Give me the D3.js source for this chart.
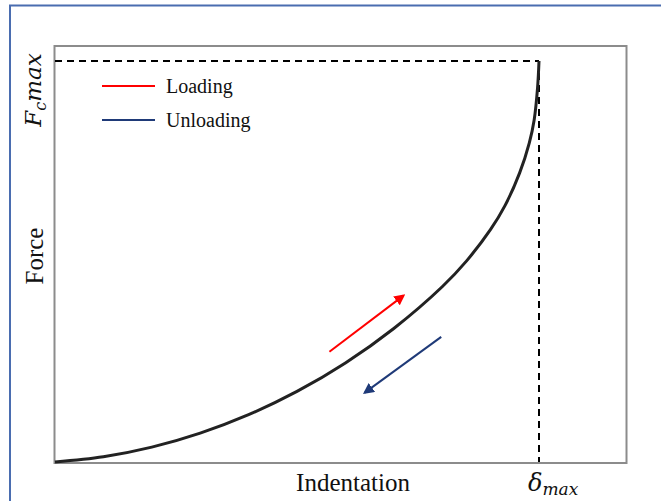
<!DOCTYPE html>
<html>
<head>
<meta charset="utf-8">
<script src="https://cdn.jsdelivr.net/npm/d3@7"></script>
<style>
  body { margin: 0; background: #fff; }
  svg { display: block; }
</style>
</head>
<body>
<div id="chart"></div>
<script>
// normalised indentation (delta / delta_max) and force (F / Fc_max)
var indentation = [0, 0.1, 0.2, 0.3, 0.4, 0.5, 0.6, 0.7, 0.8, 0.85, 0.9, 0.93, 0.96, 0.98, 0.99, 0.997, 1.0];
var force = [0, 0.013, 0.037, 0.072, 0.118, 0.176, 0.247, 0.333, 0.437, 0.501, 0.580, 0.640, 0.721, 0.796, 0.853, 0.933, 1.0];

// legend entries
var seriesNames = ["Loading", "Unloading"];
var seriesColors = ["#ff0000", "#1f3a78"];

// direction arrows: [x0, y0, x1, y1] in data units
var arrowPaths = [
  [0.567, 0.275, 0.720, 0.415],
  [0.798, 0.312, 0.640, 0.173]
];

var svgWidth = 661;
var svgHeight = 501;

var svg = d3.select("#chart")
  .append("svg")
  .attr("width", svgWidth)
  .attr("height", svgHeight);

// slide frame
svg.append("path")
  .attr("d", "M10,501 L10,5.5 L661,5.5")
  .attr("fill", "none")
  .attr("stroke", "#4a6db0")
  .attr("stroke-width", 2);

var xScale = d3.scaleLinear().domain([0, 1]).range([55, 539]);
var yScale = d3.scaleLinear().domain([0, 1]).range([462, 61]);

// plot box
svg.append("rect")
  .attr("x", 54.5)
  .attr("y", 46)
  .attr("width", 572)
  .attr("height", 417)
  .attr("fill", "none")
  .attr("stroke", "#8c8c8c")
  .attr("stroke-width", 2);

// dashed guide lines to max
svg.append("line")
  .attr("x1", xScale(0)).attr("y1", yScale(1))
  .attr("x2", xScale(1)).attr("y2", yScale(1))
  .attr("stroke", "#000").attr("stroke-width", 2)
  .attr("stroke-dasharray", "7,5");

svg.append("line")
  .attr("x1", xScale(1)).attr("y1", yScale(1))
  .attr("x2", xScale(1)).attr("y2", yScale(0))
  .attr("stroke", "#000").attr("stroke-width", 2)
  .attr("stroke-dasharray", "7,5");

// load curve
var pts = indentation.map((d, i) => [d, force[i]]);
var line = d3.line()
  .x(d => xScale(d[0]))
  .y(d => yScale(d[1]))
  .curve(d3.curveCatmullRom.alpha(0.5));

svg.append("path")
  .attr("d", line(pts))
  .attr("fill", "none")
  .attr("stroke", "#222")
  .attr("stroke-width", 3);

// arrow heads
var defs = svg.append("defs");
seriesColors.forEach(function(c, i) {
  defs.append("marker")
    .attr("id", "head" + i)
    .attr("viewBox", "0 0 10 10")
    .attr("refX", 8)
    .attr("refY", 5)
    .attr("markerWidth", 5.5)
    .attr("markerHeight", 5.5)
    .attr("markerUnits", "strokeWidth")
    .attr("orient", "auto")
    .append("path")
    .attr("d", "M0,0 L10,5 L0,10 Z")
    .attr("fill", c);
});

svg.selectAll(".arrow")
  .data(arrowPaths)
  .enter()
  .append("line")
  .attr("class", "arrow")
  .attr("x1", d => xScale(d[0]))
  .attr("y1", d => yScale(d[1]))
  .attr("x2", d => xScale(d[2]))
  .attr("y2", d => yScale(d[3]))
  .attr("stroke", (d, i) => seriesColors[i])
  .attr("stroke-width", 2)
  .attr("marker-end", (d, i) => "url(#head" + i + ")");

// legend
var legend = svg.selectAll(".legend")
  .data(seriesNames)
  .enter()
  .append("g")
  .attr("class", "legend")
  .attr("transform", (d, i) => `translate(102, ${86 + i * 34})`);

legend.append("line")
  .attr("x1", 0).attr("x2", 53)
  .attr("stroke", (d, i) => seriesColors[i])
  .attr("stroke-width", 2);

legend.append("text")
  .attr("x", 64)
  .attr("y", 7)
  .attr("font-family", "Liberation Serif, Times New Roman, serif")
  .attr("font-size", 20)
  .attr("fill", "#111")
  .text(d => d);

// axis labels
svg.append("text")
  .attr("x", 353)
  .attr("y", 491)
  .attr("text-anchor", "middle")
  .attr("font-family", "Liberation Serif, Times New Roman, serif")
  .attr("font-size", 25)
  .attr("fill", "#111")
  .text("Indentation");

svg.append("text")
  .attr("transform", "translate(43, 256) rotate(-90)")
  .attr("text-anchor", "middle")
  .attr("font-family", "Liberation Serif, Times New Roman, serif")
  .attr("font-size", 25)
  .attr("fill", "#111")
  .text("Force");

var fmax = svg.append("text")
  .attr("transform", "translate(41, 90) rotate(-90)")
  .attr("text-anchor", "middle")
  .attr("font-family", "DejaVu Serif, serif")
  .attr("font-style", "italic")
  .attr("font-size", 23)
  .attr("fill", "#111");
fmax.append("tspan").text("F");
fmax.append("tspan").attr("font-size", 16).attr("dy", 5).text("c");
fmax.append("tspan").attr("dy", -5).text("max");

var dmax = svg.append("text")
  .attr("x", 528)
  .attr("y", 491)
  .attr("font-family", "DejaVu Serif, serif")
  .attr("font-style", "italic")
  .attr("font-size", 24)
  .attr("fill", "#111");
dmax.append("tspan").text("δ");
dmax.append("tspan").attr("font-size", 17).attr("dy", 4).text("max");
</script>
</body>
</html>
